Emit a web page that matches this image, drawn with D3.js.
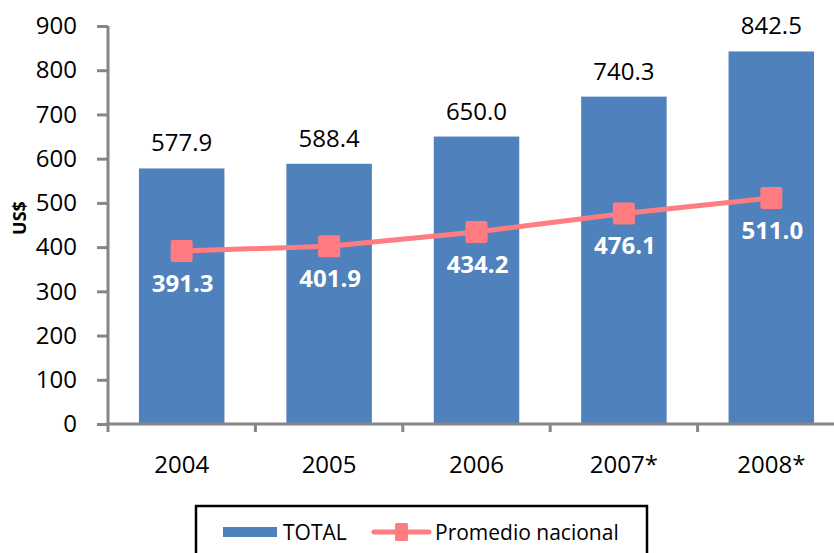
<!DOCTYPE html>
<html>
<head>
<meta charset="utf-8">
<script src="https://cdn.jsdelivr.net/npm/d3@7"></script>
<style>
  body { margin: 0; background: #fff; }
  svg { display: block; font-family: "Open Sans", sans-serif; }
</style>
</head>
<body>
<svg id="chart" width="834" height="553"></svg>
<script>
var years    = ['2004', '2005', '2006', '2007*', '2008*'];
var totals   = [577.9, 588.4, 650.0, 740.3, 842.5];
var promedio = [391.3, 401.9, 434.2, 476.1, 511.0];
var yTicks   = [0, 100, 200, 300, 400, 500, 600, 700, 800, 900];

var svg = d3.select('#chart');

var barColor = '#4F81BD',
    lineColor = '#FF7C80',
    axisColor = '#868686';

var x = d3.scaleBand().domain(years).range([108, 845])
          .paddingInner(0.42).paddingOuter(0.21);
var y = d3.scaleLinear().domain([0, 900]).range([424, 26]);

// bars
svg.append('g').selectAll('rect')
   .data(totals)
   .enter().append('rect')
   .attr('x', (d, i) => x(years[i]))
   .attr('y', d => y(d))
   .attr('width', x.bandwidth())
   .attr('height', d => y(0) - y(d))
   .attr('fill', barColor);

// bar labels
svg.append('g').selectAll('text')
   .data(totals)
   .enter().append('text')
   .attr('x', (d, i) => x(years[i]) + x.bandwidth() / 2)
   .attr('y', d => y(d) - 17)
   .attr('text-anchor', 'middle')
   .attr('font-size', 24)
   .attr('fill', '#000')
   .text(d => d.toFixed(1));

// y axis
var yAxis = d3.axisLeft(y).tickValues(yTicks).tickSize(11).tickPadding(20);
var gy = svg.append('g').attr('transform', 'translate(108,0)').call(yAxis);
gy.select('.domain').attr('stroke', axisColor).attr('stroke-width', 3)
  .attr('d', 'M0,' + y(900) + 'V' + (y(0) + 1));
gy.selectAll('.tick line').attr('stroke', axisColor).attr('stroke-width', 3);
gy.selectAll('.tick text').attr('font-size', 24).attr('fill', '#000')
  .attr('font-family', '"Open Sans", sans-serif');

// x axis line + boundary ticks
var step = x.step();
var bounds = years.map((d, i) => x(d) - step * x.paddingInner() / 2);
var gx = svg.append('g');
gx.append('line')
  .attr('x1', 108).attr('x2', 840)
  .attr('y1', y(0)).attr('y2', y(0))
  .attr('stroke', axisColor).attr('stroke-width', 3);
gx.selectAll('line.tk')
  .data(bounds)
  .enter().append('line')
  .attr('class', 'tk')
  .attr('x1', d => d).attr('x2', d => d)
  .attr('y1', y(0)).attr('y2', y(0) + 8)
  .attr('stroke', axisColor).attr('stroke-width', 3);
gx.selectAll('text')
  .data(years)
  .enter().append('text')
  .attr('x', d => x(d) + x.bandwidth() / 2)
  .attr('y', 473)
  .attr('text-anchor', 'middle')
  .attr('font-size', 24)
  .attr('fill', '#000')
  .text(d => d);

// y axis title
svg.append('text')
   .attr('transform', 'translate(26,218) rotate(-90)')
   .attr('text-anchor', 'middle')
   .attr('font-size', 18)
   .attr('font-weight', 'bold')
   .attr('fill', '#000')
   .text('US$');

// line
var line = d3.line()
  .x((d, i) => x(years[i]) + x.bandwidth() / 2)
  .y(d => y(d));

svg.append('path')
   .datum(promedio)
   .attr('d', line)
   .attr('fill', 'none')
   .attr('stroke', lineColor)
   .attr('stroke-width', 5);

svg.append('g').selectAll('rect')
   .data(promedio)
   .enter().append('rect')
   .attr('x', (d, i) => x(years[i]) + x.bandwidth() / 2 - 11)
   .attr('y', d => y(d) - 11)
   .attr('width', 22).attr('height', 22)
   .attr('rx', 2)
   .attr('fill', lineColor);

svg.append('g').selectAll('text')
   .data(promedio)
   .enter().append('text')
   .attr('x', (d, i) => x(years[i]) + x.bandwidth() / 2 + 1)
   .attr('y', d => y(d) + 41)
   .attr('text-anchor', 'middle')
   .attr('font-size', 24)
   .attr('font-weight', 'bold')
   .attr('fill', '#fff')
   .text(d => d.toFixed(1));

// legend
var lg = svg.append('g');
lg.append('rect')
  .attr('x', 196).attr('y', 506)
  .attr('width', 451).attr('height', 60)
  .attr('fill', '#fff')
  .attr('stroke', '#000').attr('stroke-width', 2.5);
lg.append('rect')
  .attr('x', 223).attr('y', 527)
  .attr('width', 54).attr('height', 10)
  .attr('fill', barColor);
lg.append('text')
  .attr('x', 283).attr('y', 540)
  .attr('font-size', 21).attr('fill', '#000')
  .text('TOTAL');
lg.append('line')
  .attr('x1', 374).attr('x2', 429)
  .attr('y1', 532).attr('y2', 532)
  .attr('stroke', lineColor).attr('stroke-width', 5)
  .attr('stroke-linecap', 'round');
lg.append('rect')
  .attr('x', 395).attr('y', 523)
  .attr('width', 13).attr('height', 18)
  .attr('rx', 1.5)
  .attr('fill', lineColor);
lg.append('text')
  .attr('x', 435).attr('y', 540)
  .attr('font-size', 21).attr('fill', '#000')
  .text('Promedio nacional');
</script>
</body>
</html>
